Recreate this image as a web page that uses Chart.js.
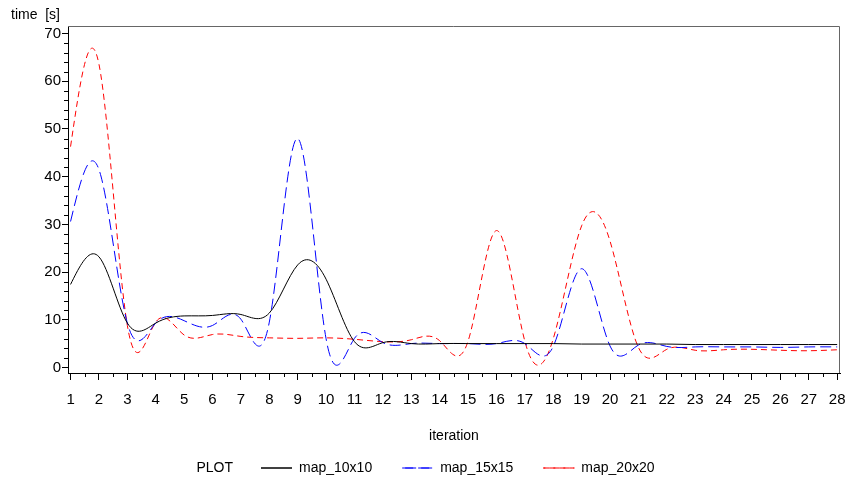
<!DOCTYPE html>
<html>
<head>
<meta charset="utf-8">
<script src="https://cdn.jsdelivr.net/npm/chart.js@4.4.0/dist/chart.umd.min.js"></script>
<style>
    html, body { margin: 0; padding: 0; background: #fff; }
    #wrap { width: 845px; height: 483px; }
</style>
</head>
<body>
<div id="wrap"><canvas id="timing-chart"></canvas></div>
<script>
const iterations = [1, 2, 3, 4, 5, 6, 7, 8, 9, 10, 11, 12, 13, 14, 15, 16, 17, 18, 19, 20, 21, 22, 23, 24, 25, 26, 27, 28];

const map10x10 = [17.4, 23.2, 9.3, 9.3, 10.8, 10.9, 11.1, 11.4, 21.5, 18.5, 5.4, 5.2, 5.0, 5.0,
                  5.0, 5.0, 5.0, 5.0, 4.9, 4.9, 4.9, 4.9, 4.8, 4.8, 4.8, 4.8, 4.8, 4.8];
const map15x15 = [30.6, 41.5, 9.3, 9.3, 9.8, 8.8, 10.1, 9.5, 48.0, 6.0, 6.1, 5.2, 5.0, 5.0,
                  5.0, 5.0, 5.0, 4.4, 20.7, 4.5, 4.7, 4.4, 4.3, 4.3, 4.3, 4.2, 4.3, 4.3];
const map20x20 = [46.3, 63.6, 8.8, 9.5, 6.8, 6.9, 6.5, 6.2, 6.1, 6.2, 5.9, 5.4, 5.8, 5.6,
                  5.5, 28.7, 5.5, 6.0, 29.7, 26.5, 4.2, 3.8, 3.6, 3.7, 3.8, 3.6, 3.5, 3.7];

const yTicks = [0, 10, 20, 30, 40, 50, 60, 70];

const FONT = "'Liberation Sans', Arial, sans-serif";
const LEGEND_START = 261;

// SAS-style interpolation: natural cubic spline through the drawn points,
// handed to Chart.js as bezier control points
function naturalSplineControls(points) {
    const n = points.length;
    if (n < 3) return;
    const x = points.map(p => p.x);
    const y = points.map(p => p.y);
    const h = [];
    for (let i = 0; i < n - 1; i++) h.push(x[i + 1] - x[i]);

    const sub = [], diag = [], sup = [], rhs = [];
    for (let i = 1; i < n - 1; i++) {
        sub.push(h[i - 1]);
        diag.push(2 * (h[i - 1] + h[i]));
        sup.push(h[i]);
        rhs.push(6 * ((y[i + 1] - y[i]) / h[i] - (y[i] - y[i - 1]) / h[i - 1]));
    }
    const k = n - 2;
    for (let j = 1; j < k; j++) {
        const w = sub[j] / diag[j - 1];
        diag[j] -= w * sup[j - 1];
        rhs[j] -= w * rhs[j - 1];
    }
    const m = new Array(n).fill(0);
    m[k] = rhs[k - 1] / diag[k - 1];
    for (let j = k - 2; j >= 0; j--) {
        m[j + 1] = (rhs[j] - sup[j] * m[j + 2]) / diag[j];
    }

    for (let i = 0; i < n - 1; i++) {
        const slope = (y[i + 1] - y[i]) / h[i];
        const d0 = slope - h[i] * (2 * m[i] + m[i + 1]) / 6;
        const d1 = slope + h[i] * (m[i] + 2 * m[i + 1]) / 6;
        points[i].cp2x = x[i] + h[i] / 3;
        points[i].cp2y = y[i] + d0 * h[i] / 3;
        points[i + 1].cp1x = x[i + 1] - h[i] / 3;
        points[i + 1].cp1y = y[i + 1] - d1 * h[i] / 3;
    }
    points[0].cp1x = x[0]; points[0].cp1y = y[0];
    points[n - 1].cp2x = x[n - 1]; points[n - 1].cp2y = y[n - 1];
}

const splinePlugin = {
    id: 'naturalSpline',
    beforeDatasetDraw(chart, args) {
        const line = args.meta.dataset;
        if (!line || !line.points) return;
        if (typeof line.updateControlPoints === 'function') {
            line.updateControlPoints(chart.chartArea, args.meta.indexAxis);
        }
        naturalSplineControls(line.points);
        line._path = undefined;
    },
};

// frame, minor ticks, axis caption and legend heading
const decorPlugin = {
    id: 'decor',
    afterLayout(chart) {
        const lg = chart.legend;
        if (!lg || !lg.lineWidths) return;
        const pad = lg.options.labels.padding;
        const firstX = (lg.left + pad + lg.right - lg.lineWidths[0]) / 2;
        const dx = LEGEND_START - firstX;
        lg.left += dx;
        lg.right += dx;
        lg.top += 2;
        lg.bottom += 2;
    },
    afterDraw(chart) {
        const { ctx, chartArea: a, scales: { x, y } } = chart;
        ctx.save();

        ctx.strokeStyle = '#666';
        ctx.lineWidth = 1;
        ctx.beginPath();
        ctx.moveTo(a.left, a.top + 0.5);
        ctx.lineTo(a.right - 0.5, a.top + 0.5);
        ctx.lineTo(a.right - 0.5, a.bottom);
        ctx.stroke();

        ctx.strokeStyle = '#000';
        ctx.beginPath();
        for (let v = 1.5; v < 28; v += 1) {
            const px = Math.round(x.getPixelForValue(v)) + 0.5;
            ctx.moveTo(px, a.bottom);
            ctx.lineTo(px, a.bottom + 4);
        }
        for (let v = 2; v < 70; v += 2) {
            if (v % 10 === 0) continue;
            const py = Math.round(y.getPixelForValue(v)) + 0.5;
            ctx.moveTo(a.left - 4, py);
            ctx.lineTo(a.left, py);
        }
        ctx.stroke();

        ctx.fillStyle = '#000';
        ctx.font = '14px ' + FONT;
        ctx.textBaseline = 'middle';
        ctx.textAlign = 'left';
        ctx.fillText('time  [s]', 11, 15);

        const lg = chart.legend;
        if (lg && lg.legendHitBoxes && lg.legendHitBoxes.length) {
            const hb = lg.legendHitBoxes[0];
            ctx.textAlign = 'right';
            ctx.fillText('PLOT', hb.left - 28, hb.top + hb.height / 2);
        }
        ctx.restore();
    },
};

const canvas = document.getElementById('timing-chart');

new Chart(canvas, {
    type: 'line',
    data: {
        labels: iterations,
        datasets: [
            {
                label: 'map_10x10',
                data: map10x10,
                borderColor: '#000000',
                backgroundColor: '#000000',
                borderWidth: 1,
                pointRadius: 0,
                tension: 0.4,
            },
            {
                label: 'map_15x15',
                data: map15x15,
                borderColor: '#0000ff',
                backgroundColor: '#0000ff',
                borderWidth: 1,
                borderDash: [11, 5],
                pointRadius: 0,
                tension: 0.4,
            },
            {
                label: 'map_20x20',
                data: map20x20,
                borderColor: '#ff0000',
                backgroundColor: '#ff0000',
                borderWidth: 1,
                borderDash: [6, 4],
                pointRadius: 0,
                tension: 0.4,
            },
        ],
    },
    options: {
        responsive: true,
        maintainAspectRatio: false,
        devicePixelRatio: 1,
        animation: false,
        events: [],
        layout: { padding: { top: 26, right: 5, left: 0, bottom: 0 } },
        plugins: {
            legend: {
                position: 'bottom',
                labels: {
                    color: '#000',
                    font: { family: FONT, size: 14 },
                    boxWidth: 31,
                    boxHeight: 0,
                    padding: 30,
                },
            },
            tooltip: { enabled: false },
        },
        scales: {
            x: {
                type: 'linear',
                min: 0.91,
                max: 28.1,
                afterBuildTicks: (scale) => { scale.ticks = iterations.map(v => ({ value: v })); },
                afterFit: (scale) => {
                    scale.height = 56;
                    scale.paddingLeft = 0;
                    scale.paddingRight = 0;
                },
                grid: { drawOnChartArea: false, drawTicks: true, tickLength: 7, color: '#000' },
                border: { display: true, color: '#000' },
                ticks: {
                    color: '#000',
                    font: { family: FONT, size: 15 },
                    padding: 11,
                    maxRotation: 0,
                    autoSkip: false,
                },
                title: {
                    display: true,
                    text: 'iteration',
                    color: '#000',
                    font: { family: FONT, size: 14 },
                    padding: { top: 0, bottom: -16 },
                },
            },
            y: {
                type: 'linear',
                min: -1.17,
                max: 71.6,
                afterBuildTicks: (scale) => { scale.ticks = yTicks.map(v => ({ value: v })); },
                afterFit: (scale) => { scale.width = 68; },
                grid: { drawOnChartArea: false, drawTicks: true, tickLength: 6, color: '#000' },
                border: { display: true, color: '#000' },
                ticks: {
                    color: '#000',
                    font: { family: FONT, size: 15 },
                    padding: 1,
                },
            },
        },
    },
    plugins: [splinePlugin, decorPlugin],
});
</script>
</body>
</html>
